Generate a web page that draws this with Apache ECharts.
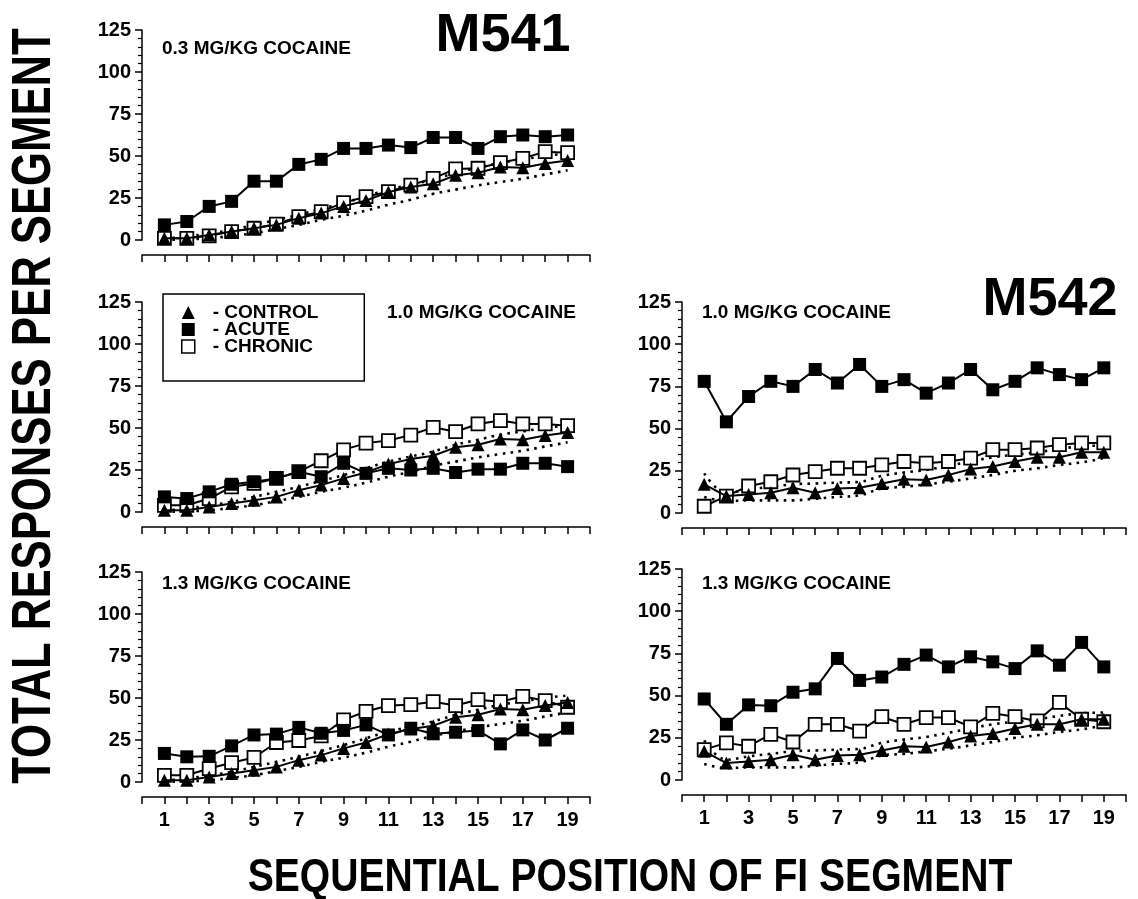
<!DOCTYPE html>
<html>
<head>
<meta charset="utf-8">
<script src="https://cdn.jsdelivr.net/npm/echarts@6/dist/echarts.min.js"></script>
<style>
html,body{margin:0;padding:0;background:#fff;}
#chart{width:1138px;height:899px;}
</style>
</head>
<body>
<div id="chart"></div>
<script>
// ---- data ----
const positions = [1,2,3,4,5,6,7,8,9,10,11,12,13,14,15,16,17,18,19];
const xTickLabels = [1,3,5,7,9,11,13,15,17,19];
const yTicks = [0,25,50,75,100,125];

// Monkey M541
const control541 = [1, 1, 3, 5, 7, 9, 13, 16, 20, 23.5, 28.5, 31.5, 33.5, 38.5, 40, 43.5, 43, 45.5, 47.3];
const upper541   = [1, 2, 4, 6, 9, 12, 15, 18.5, 22, 26, 30, 33, 36, 40, 43, 46, 48, 50, 51.5];
const lower541   = [0, 0.5, 1, 2.5, 4, 6.5, 9, 12, 14.5, 17.5, 21, 24, 27.5, 30, 32.5, 34.5, 36.5, 39, 41.5];
const acute541_03   = [9, 11, 20, 23, 35, 35, 45, 48, 54.5, 54.5, 56.5, 55, 61, 61, 54.5, 61.5, 62.5, 61.5, 62.5];
const chronic541_03 = [1, 1, 2.5, 5, 7, 9.5, 13.9, 16.9, 22.2, 25.8, 28.8, 32.7, 36.7, 42.3, 42.7, 46, 48.6, 52.6, 52];
const acute541_10   = [9, 8, 12, 16.5, 18, 20, 24, 21, 29, 23, 26, 25, 26, 23.5, 25.5, 25.5, 29, 29, 27];
const chronic541_10 = [4, 4, 8, 15, 17, 20, 24, 30.5, 37, 41, 42.5, 45.8, 50.4, 47.8, 52.4, 54.4, 52.4, 52.4, 51.4];
const acute541_13   = [17, 15, 15.3, 21.5, 28, 28.5, 32.5, 29, 30.7, 34, 28, 32, 28.7, 29.6, 30.6, 22.7, 31, 25, 32];
const chronic541_13 = [4, 4, 8, 11.5, 14.6, 23.5, 24.7, 27.4, 37, 42, 45.5, 46, 47.8, 45.5, 49, 47.8, 51, 48.4, 44.5];

// Monkey M542
const control542 = [17, 10, 11, 12, 15, 12, 14.5, 15, 17.5, 20, 19.5, 22.5, 26, 27.5, 30.5, 33, 33, 36, 36];
const upper542   = [23.5, 12, 14, 15.5, 17, 17.5, 18, 18.5, 22, 24, 25.5, 28, 30.5, 33, 34.5, 36, 38, 39.5, 40];
const lower542   = [9.5, 7, 7.5, 7.5, 7.5, 8.5, 9.5, 10.5, 14.5, 15.5, 17, 18.5, 20.5, 22.5, 25, 26.5, 28.5, 30, 32.5];
const acute542_10   = [78, 54, 69, 78, 75, 85, 77, 88, 75, 79, 71, 77, 85, 73, 78, 86, 82, 79, 86];
const chronic542_10 = [4, 10, 16, 18.5, 22.5, 24.5, 26.5, 26.5, 28.5, 30.5, 29.5, 30.5, 32.5, 37.5, 37.5, 38.5, 40.5, 41.5, 41.5];
const acute542_13   = [48, 33, 44.5, 44, 52, 54, 72, 59, 61, 68.5, 74, 67, 73, 70, 66, 76.5, 68, 81.5, 67];
const chronic542_13 = [18, 22, 20, 27, 22.5, 33, 33, 29, 37.5, 33, 37, 37, 31.5, 39.5, 37.5, 35, 46, 36, 34.5];

// ---- chart ----
const FONT = '"Liberation Sans", Arial, Helvetica, sans-serif';

function pairs(vals){ return positions.map((p,i)=>[p, vals[i]]); }

const grids = [
  {left:142, top:30,  width:448, height:210},
  {left:142, top:302, width:448, height:210},
  {left:142, top:572, width:448, height:210},
  {left:682, top:302, width:444, height:211},
  {left:682, top:569, width:444, height:211}
];
const showXLabels = [false,false,true,false,true];

const xAxes = grids.map((g,i)=>({
  type:'value', gridIndex:i, min:0, max:20, interval:1, offset:15,
  axisLine:{show:true, onZero:false, lineStyle:{color:'#000', width:1.5}},
  axisTick:{show:true, length:7, lineStyle:{color:'#000', width:1.5}},
  splitLine:{show:false},
  axisLabel:{show:showXLabels[i], margin:13, color:'#000', fontFamily:FONT, fontWeight:'bold', fontSize:20,
    formatter:(v)=> xTickLabels.indexOf(v) >= 0 ? String(v) : ''}
}));
const yAxes = grids.map((g,i)=>({
  type:'value', gridIndex:i, min:yTicks[0], max:yTicks[yTicks.length-1], interval:25,
  axisLine:{show:true, lineStyle:{color:'#000', width:1.5}},
  axisTick:{show:true, length:7, lineStyle:{color:'#000', width:1.5}},
  minorTick:{show:true, splitNumber:5, length:4, lineStyle:{color:'#000', width:1.2}},
  splitLine:{show:false},
  axisLabel:{margin:11, color:'#000', fontFamily:FONT, fontWeight:'bold', fontSize:20,
    formatter:(v)=> yTicks.indexOf(v) >= 0 ? String(v) : ''}
}));

function panel(gi, acute, chronic, control, upper, lower){
  const dotted = {type:'line', xAxisIndex:gi, yAxisIndex:gi, symbol:'none', smooth:0.4, silent:true, z:1,
    lineStyle:{color:'#000', width:2.6, type:[2.6,5.4]}};
  return [
    Object.assign({}, dotted, {name:'upper', data:pairs(upper)}),
    Object.assign({}, dotted, {name:'lower', data:pairs(lower)}),
    {type:'line', name:'CHRONIC', xAxisIndex:gi, yAxisIndex:gi, data:pairs(chronic), z:3,
      symbol:'rect', symbolSize:13, showAllSymbol:true,
      itemStyle:{color:'#fff', borderColor:'#000', borderWidth:1.8},
      lineStyle:{color:'#000', width:2}},
    {type:'line', name:'ACUTE', xAxisIndex:gi, yAxisIndex:gi, data:pairs(acute), z:4,
      symbol:'rect', symbolSize:13, showAllSymbol:true,
      itemStyle:{color:'#000'}, lineStyle:{color:'#000', width:2}},
    {type:'line', name:'CONTROL', xAxisIndex:gi, yAxisIndex:gi, data:pairs(control), z:5,
      symbol:'triangle', symbolSize:13, showAllSymbol:true,
      itemStyle:{color:'#000'}, lineStyle:{color:'#000', width:2}}
  ];
}

const series = [].concat(
  panel(0, acute541_03, chronic541_03, control541, upper541, lower541),
  panel(1, acute541_10, chronic541_10, control541, upper541, lower541),
  panel(2, acute541_13, chronic541_13, control541, upper541, lower541),
  panel(3, acute542_10, chronic542_10, control542, upper542, lower542),
  panel(4, acute542_13, chronic542_13, control542, upper542, lower542)
);

function label(text, x, y, size, align, sx, rot){
  return {type:'text', x:x, y:y, z:10, scaleX:sx||1, rotation:rot||0,
    style:{text:text, fill:'#000', font:'bold '+size+'px '+FONT,
      textAlign:align||'left', textVerticalAlign:'middle'}};
}

const option = {
  backgroundColor:'#fff',
  animation:false,
  grid:grids,
  xAxis:xAxes,
  yAxis:yAxes,
  series:series,
  legend:{
    orient:'vertical', left:163, top:294, selectedMode:false,
    data:[
      {name:'CONTROL', icon:'triangle', itemStyle:{color:'#000'}},
      {name:'ACUTE', icon:'rect', itemStyle:{color:'#000'}},
      {name:'CHRONIC', icon:'rect', itemStyle:{color:'#fff', borderColor:'#000', borderWidth:1.5}}
    ],
    formatter:'- {name}',
    itemWidth:13, itemHeight:13, itemGap:-2,
    padding:[9, 46, 25, 18],
    borderColor:'#000', borderWidth:1.5,
    textStyle:{color:'#000', fontFamily:FONT, fontWeight:'bold', fontSize:19, padding:[0,0,0,13]}
  },
  graphic:[
    label('M541', 503, 36, 54, 'center'),
    label('M542', 1050, 300, 54, 'center'),
    label('0.3 MG/KG COCAINE', 162, 49, 19),
    label('1.0 MG/KG COCAINE', 387, 313, 19),
    label('1.0 MG/KG COCAINE', 702, 313, 19),
    label('1.3 MG/KG COCAINE', 162, 584, 19),
    label('1.3 MG/KG COCAINE', 702, 584, 19),
    label('SEQUENTIAL POSITION OF FI SEGMENT', 630, 878, 46, 'center', 0.85),
    label('TOTAL RESPONSES PER SEGMENT', 35, 406, 56, 'center', 0.78, Math.PI/2)
  ]
};

const chart = echarts.init(document.getElementById('chart'), null, {renderer:'canvas'});
chart.setOption(option);
</script>
</body>
</html>
